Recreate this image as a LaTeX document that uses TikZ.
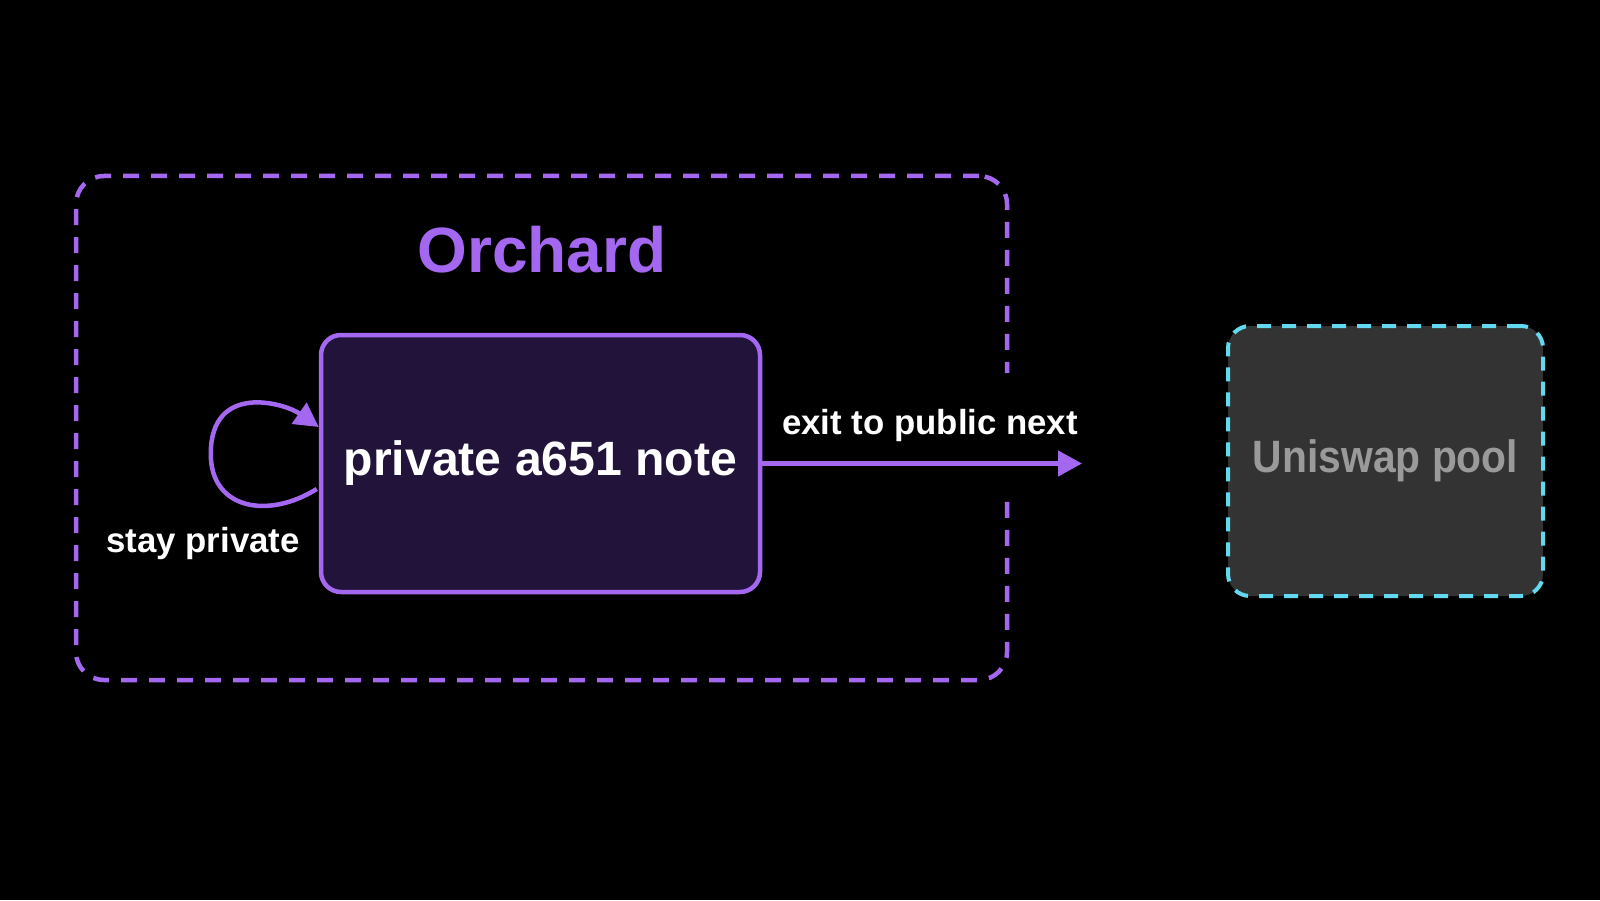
\documentclass[tikz,border=0pt]{standalone}
\usepackage{fontspec}
\setmainfont{Liberation Sans}
\newfontfamily\narrowfont[FakeStretch=0.9]{Liberation Sans}
\usepackage{xcolor}
\usepackage{tikz}
\usetikzlibrary{arrows.meta, positioning}

\definecolor{orchardpurple}{HTML}{A467F0}
\definecolor{notefill}{HTML}{21133A}
\definecolor{poolcyan}{HTML}{62D9EE}
\definecolor{poolfill}{HTML}{333333}
\definecolor{pooltext}{HTML}{9A9A9A}

\begin{document}
\begin{tikzpicture}[
    zone/.style={rectangle, rounded corners=0.28cm, draw=orchardpurple, line width=0.045cm, dash pattern=on 0.16cm off 0.12cm},
    zonelabel/.style={text=orchardpurple, font=\bfseries\fontsize{18.2}{21}\selectfont},
    notebox/.style={rectangle, rounded corners=0.2cm, draw=orchardpurple, fill=notefill, line width=0.045cm, text=white, font=\bfseries\fontsize{13.7}{16}\selectfont},
    poolbox/.style={rectangle, rounded corners=0.22cm, draw=poolcyan, fill=poolfill, line width=0.04cm, dash pattern=on 0.14cm off 0.11cm, text=pooltext, font=\narrowfont\bfseries\fontsize{12.9}{15}\selectfont},
    edgelabel/.style={text=white, font=\bfseries\fontsize{9.9}{12}\selectfont},
    arrow/.style={->, >={Triangle[length=0.24cm, width=0.25cm]}, draw=orchardpurple, line width=0.045cm}
]

% Background
\fill[black] (0,0) rectangle (16,9);

% Orchard Zone
\node[zone, minimum width=9.31cm, minimum height=5.04cm] (orchard) at (5.415,4.72) {};
\node[zonelabel, anchor=base] (orchardlabel) at (5.42,6.27) {Orchard};
\fill[black] ([xshift=-0.12cm, yshift=0.55cm]orchard.east) rectangle ([xshift=0.12cm, yshift=-0.69cm]orchard.east);

% Private Note
\node[notebox, minimum width=4.39cm, minimum height=2.57cm] (note) at (5.405,4.365) {private a651 note};

% Uniswap Pool
\node[poolbox, minimum width=3.15cm, minimum height=2.70cm] (pool) at (13.855,4.39) {Uniswap pool};

% Arrows - Stay Private
\draw[arrow] ([xshift=-0.02cm, yshift=-0.255cm]note.west) .. controls +(212:0.58) and +(270:0.55) .. ++(-1.06,0.35)
    .. controls +(90:0.72) and +(145:0.42) .. ([yshift=0.365cm]note.west);
\node[edgelabel, anchor=base] (staylabel) at (2.03,3.48) {stay private};

% Arrows - Exit to Public
\coordinate (exitend) at (10.82,4.365);
\draw[arrow] (note.east) -- (exitend);
\node[edgelabel, anchor=base] (exitlabel) at (9.30,4.66) {exit to public next};

\end{tikzpicture}
\end{document}
